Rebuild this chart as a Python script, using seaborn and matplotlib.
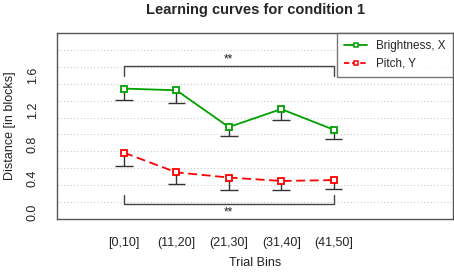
import numpy as np
import pandas as pd
import matplotlib
matplotlib.use("Agg")
import matplotlib.pyplot as plt
import seaborn as sns
from matplotlib.lines import Line2D

# --- Data ---
bins = ["[0,10]", "(11,20]", "(21,30]", "(31,40]", "(41,50]"]
bright_mean = [1.45, 1.43, 1.00, 1.21, 0.97]
bright_low = [1.32, 1.28, 0.89, 1.08, 0.86]
pitch_mean = [0.70, 0.47, 0.41, 0.37, 0.38]
pitch_low = [0.54, 0.34, 0.26, 0.26, 0.27]

GREEN = "#00a000"
RED = "#ff0000"
GREY = "#444444"
FS = 9

sns.set_theme(style="white")
plt.rcParams["font.family"] = ["Liberation Sans", "DejaVu Sans"]

x = np.arange(1, len(bins) + 1)
df_b = pd.DataFrame({"bin": x, "dist": bright_mean})
df_p = pd.DataFrame({"bin": x, "dist": pitch_mean})

fig = plt.figure(figsize=(4.54, 2.74), dpi=100)
ax = fig.add_axes([57 / 454, 1 - 219 / 274, 396 / 454, 186 / 274])

ylo, yhi = -0.075, 2.1
# R-style grid: 11 equal divisions of the y range
for k in range(1, 11):
    ax.axhline(ylo + k * (yhi - ylo) / 11, color="#cccccc", lw=0.8,
               ls=(0, (1, 2)), zorder=0)

# lower error bars only (stem + cap)
cap = 0.17
for means, lows in [(bright_mean, bright_low), (pitch_mean, pitch_low)]:
    ax.vlines(x, lows, means, color="#333333", lw=1, zorder=2)
    ax.hlines(lows, x - cap, x + cap, color="#333333", lw=1, zorder=2)

mk = dict(marker="s", markersize=4.5, markerfacecolor="white", markeredgewidth=1.3)
sns.lineplot(data=df_b, x="bin", y="dist", color=GREEN, markeredgecolor=GREEN,
             lw=1.3, ax=ax, zorder=3, **mk)
sns.lineplot(data=df_p, x="bin", y="dist", color=RED, markeredgecolor=RED,
             lw=1.3, ls=(0, (5, 2.5)), ax=ax, zorder=3, **mk)

# significance brackets
ax.plot([1, 1, 5, 5], [1.6, 1.71, 1.71, 1.6], color=GREY, lw=1, zorder=2)
ax.text(3, 1.72, "**", ha="center", va="bottom", fontsize=8.5, color="#222222")
ax.plot([1, 1, 5, 5], [0.2, 0.095, 0.095, 0.2], color=GREY, lw=1, zorder=2)
ax.text(3, 0.075, "**", ha="center", va="top", fontsize=8.5, color="#222222")

ax.set_xlim(-0.28, 7.28)
ax.set_ylim(ylo, yhi)
ax.set_xticks(x)
ax.set_xticklabels(bins, fontsize=FS)
yt = np.round(np.arange(0, 1.61, 0.2), 1)
ax.set_yticks(yt)
ax.set_yticklabels([f"{v:.1f}" if i % 2 == 0 else "" for i, v in enumerate(yt)],
                   rotation=90, va="center", fontsize=FS)
ax.tick_params(axis="both", direction="out", length=5, width=0.8, color="#555555",
               labelcolor="#222222")
ax.tick_params(axis="x", pad=8)
ax.tick_params(axis="y", pad=8)
for s in ax.spines.values():
    s.set_color("#555555")
    s.set_linewidth(1)
ax.set_xlabel("Trial Bins", fontsize=FS, labelpad=6, color="#222222")
ax.set_ylabel("Distance [in blocks]", fontsize=FS, labelpad=8, color="#222222")
ax.set_title("Learning curves for condition 1", fontsize=10.5, fontweight="bold",
             pad=14)

handles = [Line2D([], [], color=GREEN, marker="s", markersize=3.5, markerfacecolor="white",
                  markeredgecolor=GREEN, markeredgewidth=1.1, lw=1.3),
           Line2D([], [], color=RED, marker="s", markersize=3.5, markerfacecolor="white",
                  markeredgecolor=RED, markeredgewidth=1.1, lw=1.3, ls=(0, (3, 1.5)))]
leg = ax.legend(handles, ["Brightness, X", "Pitch, Y"], loc="upper right",
                fontsize=8.4, frameon=True, fancybox=False, borderaxespad=0,
                handlelength=2.0, handletextpad=0.8, labelspacing=0.5,
                borderpad=0.6)
leg.get_frame().set_edgecolor("#555555")
leg.get_frame().set_linewidth(1)

fig.savefig("out.png", dpi=100)
